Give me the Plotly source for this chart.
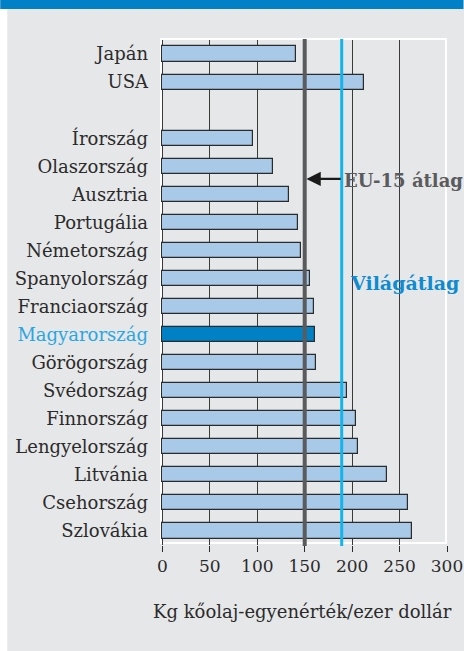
import plotly.graph_objects as go

countries = ["Japán", "USA", "Írország", "Olaszország", "Ausztria", "Portugália",
             "Németország", "Spanyolország", "Franciaország", "Magyarország",
             "Görögország", "Svédország", "Finnország", "Lengyelország",
             "Litvánia", "Csehország", "Szlovákia"]
values = [141, 212, 96, 117, 133, 143, 146, 156, 160, 161, 162, 195, 204, 206, 237, 259, 263]
positions = [0, 1, 3, 4, 5, 6, 7, 8, 9, 10, 11, 12, 13, 14, 15, 16, 17]
highlight = "Magyarország"
eu15_avg = 150
world_avg = 189
x_ticks = [0, 50, 100, 150, 200, 250, 300]

BG = "#e6e7e9"
BAR = "#a9c9e8"
HL = "#0081c6"
HL_TXT = "#2aa6e0"
EU_COL = "#5a5b5d"
WORLD_COL = "#12b5ea"
WORLD_TXT = "#0f8bd0"
FONT = "DejaVu Serif"

colors = [HL if c == highlight else BAR for c in countries]
ticktext = [f"<span style='color:{HL_TXT}'>{c}</span>" if c == highlight else c for c in countries]

fig = go.Figure()
fig.add_trace(go.Bar(
    x=values, y=positions, orientation="h", width=0.54,
    marker=dict(color=colors, line=dict(color="#2b2b2b", width=1.2)),
    hoverinfo="x+y",
))

# plot area in px
L, R, T, B = 161, 447.5, 39.5, 545
W, H = R - L, B - T
def px(xp):
    return (xp - L) / W
def py(yp):
    return (B - yp) / H

shapes = [
    dict(type="rect", xref="paper", yref="paper", x0=px(0), x1=px(464), y0=py(8.5), y1=py(-2),
         fillcolor="#0080c6", line=dict(width=0), layer="below"),
    dict(type="rect", xref="paper", yref="paper", x0=px(-2), x1=px(7), y0=py(660), y1=py(8.5),
         fillcolor="white", line=dict(width=0), layer="below"),
    dict(type="rect", xref="paper", yref="paper", x0=0, x1=px(446.5), y0=py(543), y1=py(38.5),
         fillcolor="rgba(0,0,0,0)", line=dict(color="white", width=2), layer="below"),
    dict(type="line", xref="x", yref="paper", x0=eu15_avg, x1=eu15_avg, y0=py(546), y1=py(38.5),
         line=dict(color=EU_COL, width=4), layer="above"),
    dict(type="line", xref="x", yref="paper", x0=world_avg, x1=world_avg, y0=py(546), y1=py(38.5),
         line=dict(color=WORLD_COL, width=3), layer="above"),
]

annotations = [
    dict(x=151.8, y=4.45, xref="x", yref="y", ax=189.5, ay=4.45, axref="x", ayref="y",
         text="", showarrow=True, arrowhead=2, arrowsize=1.3, arrowwidth=2.2, arrowcolor="#1a1a1a"),
    dict(x=189.3, y=4.5, xref="x", yref="y", text="<b>EU-15 átlag</b>", showarrow=False,
         xanchor="left", yanchor="middle", font=dict(family=FONT, size=18, color=EU_COL)),
    dict(x=195.5, y=8.17, xref="x", yref="y", text="<b>Világátlag</b>", showarrow=False,
         xanchor="left", yanchor="middle", font=dict(family=FONT, size=19, color=WORLD_TXT)),
    dict(x=px(303), y=py(612), xref="paper", yref="paper", text="Kg kőolaj-egyenérték/ezer dollár",
         showarrow=False, xanchor="center", yanchor="middle",
         font=dict(family=FONT, size=18, color="#2b2b2b")),
]

fig.update_layout(
    width=464, height=651,
    margin=dict(l=L, r=464 - R, t=T, b=651 - B, pad=0, autoexpand=False),
    paper_bgcolor=BG, plot_bgcolor=BG,
    showlegend=False, bargap=0,
    shapes=shapes, annotations=annotations,
    font=dict(family=FONT, size=18, color="#2b2b2b"),
    xaxis=dict(range=[-1.5, 300], tickvals=x_ticks, ticks="outside", ticklen=6, tickwidth=1.3,
               tickcolor="#2b2b2b", showgrid=True, gridcolor="#3a3a3a", gridwidth=1,
               zeroline=False, showline=False, fixedrange=True, automargin=False,
               tickfont=dict(family=FONT, size=17, color="#2b2b2b")),
    yaxis=dict(range=[17.5, -0.5], tickvals=positions, ticktext=ticktext, showgrid=False,
               zeroline=False, showline=False, ticks="", ticklabelstandoff=12, automargin=False,
               tickfont=dict(family=FONT, size=18, color="#2b2b2b"), fixedrange=True),
)

fig.write_html("out.html", config={"displayModeBar": False},
               post_script="document.body.style.margin='0';document.body.style.overflow='hidden';")
